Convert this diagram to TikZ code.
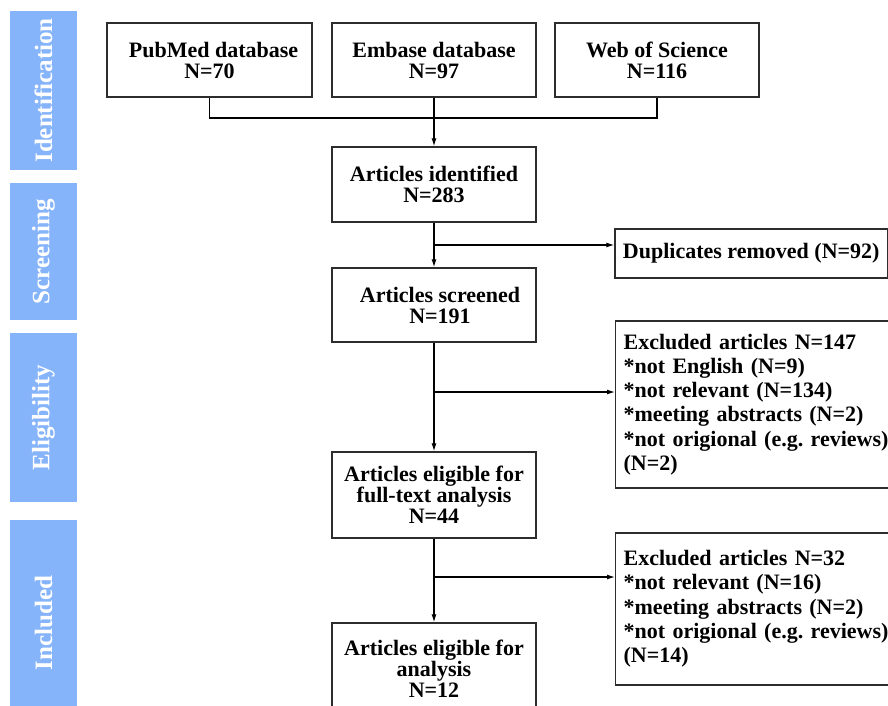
\documentclass[tikz,border=0pt]{standalone}
\usepackage{fontspec}
\setmainfont{Liberation Serif}
\usetikzlibrary{arrows.meta}
\definecolor{barblue}{RGB}{134,180,250}
\definecolor{edge}{RGB}{45,45,45}
\frenchspacing
\begin{document}
\begin{tikzpicture}[x=1pt,y=-1pt,
  box/.style={draw=edge, line width=1.3pt, inner sep=0pt, align=center,
    font=\fontsize{22}{21}\selectfont\bfseries, minimum width=204pt},
  exbox/.style={draw=edge, line width=1.3pt, inner xsep=8pt, inner ysep=0pt, align=left,
    text width=285pt, anchor=west, font=\fontsize{22}{24.3}\selectfont\bfseries\frenchspacing},
  dupbox/.style={draw=edge, line width=1.3pt, inner sep=0pt, align=left,
    minimum width=272.5pt, font=\fontsize{22}{24.3}\selectfont\bfseries},
  side/.style={fill=barblue, rotate=90, inner sep=0pt, minimum height=67pt, text=white,
    font=\fontsize{25}{25}\selectfont\bfseries},
  conn/.style={draw=black, line width=1.2pt},
  arr/.style={conn, -{Latex[length=8pt,width=5pt]}}]
\path[use as bounding box, clip] (0,0) rectangle (888,706);
\fill[white] (0,0) rectangle (888,706);
% side bars
\node[side, minimum width=159pt] (s1) at (43.5,90.5) {Identification};
\node[side, minimum width=137pt] (s2) at (43.5,251.5) {Screening};
\node[side, minimum width=169pt] (s3) at (43.5,417.5) {Eligibility};
\node[side, minimum width=206pt] (s4) at (43.5,623) {Included};
% top boxes
\node[box, minimum width=205pt, minimum height=74pt] (pub) at (209.5,60) {\hspace*{8pt}PubMed database\\N=70};
\node[box, minimum height=74pt] (emb) at (434,60) {Embase database\\N=97};
\node[box, minimum height=74pt] (wos) at (657,60) {Web of Science\\N=116};
\node[box, minimum height=75pt] (ident) at (434,184.5) {Articles identified\\N=283};
\node[box, minimum height=74pt] (scr) at (434,305) {\hspace*{12pt}Articles screened\\\hspace*{12pt}N=191};
\node[box, minimum height=86pt] (elig) at (434,495) {Articles eligible for\\full-text analysis\\N=44};
\node[box, minimum height=92pt] (fin) at (434,669) {Articles eligible for\\analysis\\N=12};
% right boxes
\node[dupbox, minimum height=49pt] (dup) at (751.25,253.5) {Duplicates removed (N=92)};
\node[exbox, minimum height=167pt] (ex1) at (615,404.5) {Excluded articles N=147\\{}*not English (N=9)\\{}*not relevant (N=134)\\{}*meeting abstracts (N=2)\\{}*not origional (e.g. reviews)\\(N=2)};
\node[exbox, minimum height=152pt] (ex2) at (615,609) {Excluded articles N=32\\{}*not relevant (N=16)\\{}*meeting abstracts (N=2)\\{}*not origional (e.g. reviews)\\(N=14)};
% connectors
\coordinate (m) at (434,118);
\draw[conn] (pub.south) |- (m) -| (wos.south);
\draw[arr] (emb.south) -- (ident.north);
\draw[arr] (ident.south) -- (scr.north);
\draw[arr] (scr.south) -- (elig.north);
\draw[arr] (elig.south) -- (fin.north);
\coordinate (b1) at (434,245);
\coordinate (b2) at (434,392);
\coordinate (b3) at (434,577);
\draw[arr] (b1) -- (b1 -| dup.west);
\draw[arr] (b2) -- (b2 -| ex1.west);
\draw[arr] (b3) -- (b3 -| ex2.west);
\end{tikzpicture}
\end{document}
